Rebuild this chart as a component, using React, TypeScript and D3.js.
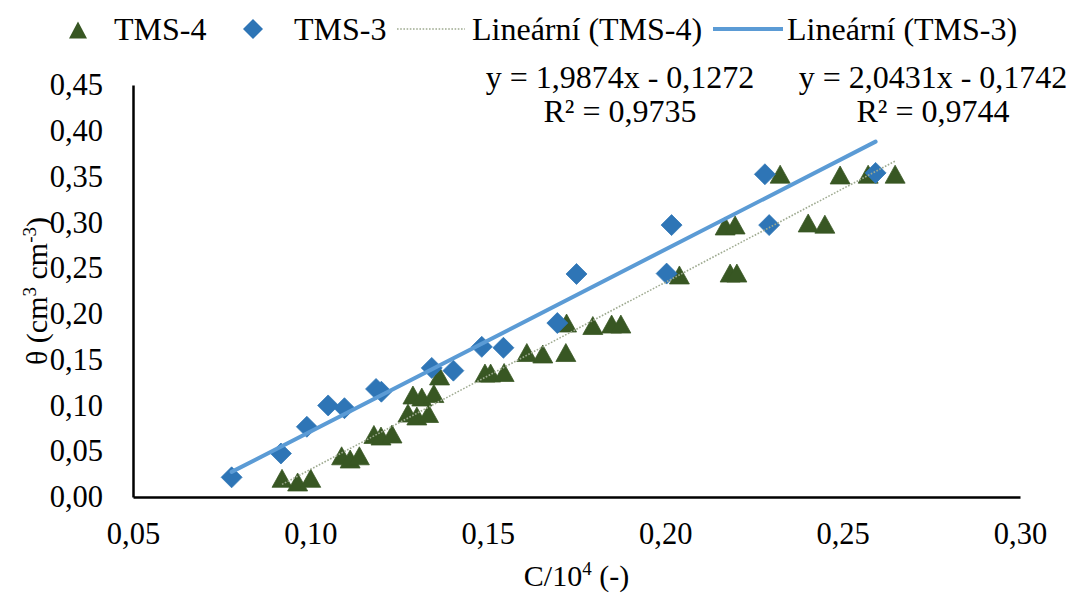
import React, { useRef, useEffect } from "react";
import * as d3 from "d3";

// --- data
const tms4X = [
  0.092, 0.0964, 0.1001, 0.1088, 0.1112, 0.1138, 0.1179, 0.1199, 0.123, 0.1275,
  0.13, 0.1333, 0.1289, 0.1314, 0.1348, 0.1364, 0.1492, 0.1508, 0.1546, 0.161,
  0.1655, 0.172, 0.1722, 0.1796, 0.1849, 0.1875, 0.204, 0.2169, 0.2197, 0.2183,
  0.2202, 0.2324, 0.2403, 0.245, 0.2493, 0.2572, 0.2648,
];
const tms4Y = [
  0.0204, 0.0164, 0.0204, 0.045, 0.0415, 0.045, 0.0683, 0.0666, 0.0688, 0.0917,
  0.0885, 0.0912, 0.1114, 0.1092, 0.113, 0.1322, 0.1354, 0.1354, 0.136, 0.1578,
  0.1562, 0.1578, 0.19, 0.1873, 0.1889, 0.1889, 0.2425, 0.296, 0.2971, 0.2446,
  0.2446, 0.3526, 0.2993, 0.298, 0.3517, 0.3526, 0.3526,
];
const tms3X = [
  0.0778, 0.0917, 0.099, 0.105, 0.1096, 0.1185, 0.12, 0.1342, 0.1403, 0.1483,
  0.1544, 0.1696, 0.175, 0.2004, 0.2018, 0.2293, 0.2281, 0.2593,
];
const tms3Y = [
  0.0215, 0.0475, 0.0767, 0.1, 0.097, 0.118, 0.115, 0.141, 0.138, 0.164,
  0.163, 0.19, 0.2436, 0.244, 0.297, 0.297, 0.3525, 0.354,
];

// trendline equations as printed on the chart
const trend4 = { slope: 2.0431, intercept: -0.1742 };
const trend3 = { slope: 1.9874, intercept: -0.1272 };
const eqLabels = ["y = 1,9874x - 0,1272", "y = 2,0431x - 0,1742"];
const r2Labels = ["R² = 0,9735", "R² = 0,9744"];

const xTicks = [0.05, 0.1, 0.15, 0.2, 0.25, 0.3];
const yTicks = [0, 0.05, 0.1, 0.15, 0.2, 0.25, 0.3, 0.35, 0.4, 0.45];
const legendNames = ["TMS-4", "TMS-3", "Lineární (TMS-4)", "Lineární (TMS-3)"];

const WIDTH = 1068;
const HEIGHT = 594;
const FONT = "Liberation Serif, Tinos, Times New Roman, serif";
const GREEN = "#385723";
const BLUE = "#2e75b6";
const TREND_BLUE = "#5b9bd5";
const TREND_DOT = "#9eaa90";

const fmt = (v: number) => d3.format(".2f")(v).replace(".", ",");

// triangle marker, centred on its bounding box
const triPath = (w: number, h: number) =>
  `M0,${-h / 2}L${w / 2},${h / 2}L${-w / 2},${h / 2}Z`;
const diamondPath = (r: number) => `M0,${-r}L${r},0L0,${r}L${-r},0Z`;

const App: React.FC = () => {
  const svgRef = useRef<SVGSVGElement>(null);

  useEffect(() => {
    if (!svgRef.current) return;
    const svg = d3.select(svgRef.current);
    svg.selectAll("*").remove();

    const x = d3.scaleLinear().domain([0.05, 0.3]).range([133, 1020]);
    const y = d3.scaleLinear().domain([0, 0.45]).range([497, 85]);

    svg.append("rect").attr("width", WIDTH).attr("height", HEIGHT).attr("fill", "white");

    // axes
    const xAxis = svg
      .append("g")
      .attr("transform", `translate(0,${y(0)})`)
      .call(
        d3.axisBottom(x).tickValues(xTicks).tickFormat((d) => fmt(+d)).tickSize(0).tickSizeOuter(0).tickPadding(25)
      );
    const yAxis = svg
      .append("g")
      .attr("transform", `translate(${x(0.05)},0)`)
      .call(
        d3.axisLeft(y).tickValues(yTicks).tickFormat((d) => fmt(+d)).tickSize(0).tickSizeOuter(0).tickPadding(30)
      );
    [xAxis, yAxis].forEach((ax) => {
      ax.attr("font-family", null).attr("font-size", 30.5);
      ax.select(".domain").attr("stroke", "#000").attr("stroke-width", 2.5);
      ax.selectAll("text").attr("fill", "#000");
    });

    // green triangles (TMS-4)
    svg
      .append("g")
      .selectAll("path")
      .data(tms4X.map((v, i) => [v, tms4Y[i]]))
      .join("path")
      .attr("d", triPath(20, 18))
      .attr("transform", (d) => `translate(${x(d[0])},${y(d[1])})`)
      .attr("fill", GREEN)
      .attr("stroke", GREEN)
      .attr("stroke-width", 0.75);

    // blue diamonds (TMS-3)
    svg
      .append("g")
      .selectAll("path")
      .data(tms3X.map((v, i) => [v, tms3Y[i]]))
      .join("path")
      .attr("d", diamondPath(10.5))
      .attr("transform", (d) => `translate(${x(d[0])},${y(d[1])})`)
      .attr("fill", BLUE)
      .attr("stroke", BLUE)
      .attr("stroke-width", 0.75);

    // trendlines over the data range
    const line = d3
      .line<number[]>()
      .x((d) => x(d[0]))
      .y((d) => y(d[1]));
    const ext4 = d3.extent(tms4X) as [number, number];
    const ext3 = d3.extent(tms3X) as [number, number];
    svg
      .append("path")
      .attr("d", line(ext4.map((v) => [v, trend4.slope * v + trend4.intercept])))
      .attr("fill", "none")
      .attr("stroke", TREND_DOT)
      .attr("stroke-width", 1.6)
      .attr("stroke-dasharray", "1.6 1.6");
    svg
      .append("path")
      .attr("d", line(ext3.map((v) => [v, trend3.slope * v + trend3.intercept])))
      .attr("fill", "none")
      .attr("stroke", TREND_BLUE)
      .attr("stroke-width", 4)
      .attr("stroke-linecap", "round");

    const txt = svg.append("g").attr("font-size", 32);

    // equation labels
    const eqX = [620, 933];
    eqLabels.forEach((t, i) => {
      txt.append("text").attr("x", eqX[i]).attr("y", 88).attr("text-anchor", "middle").text(t);
      txt.append("text").attr("x", eqX[i]).attr("y", 122).attr("text-anchor", "middle").text(r2Labels[i]);
    });

    // legend
    const ly = 29;
    txt.append("path").attr("d", triPath(18, 17)).attr("transform", `translate(78,${ly + 1})`).attr("fill", GREEN);
    txt.append("path").attr("d", diamondPath(10)).attr("transform", `translate(253,${ly})`).attr("fill", BLUE);
    txt.append("line").attr("x1", 397).attr("x2", 465).attr("y1", ly).attr("y2", ly)
      .attr("stroke", TREND_DOT).attr("stroke-width", 1.6).attr("stroke-dasharray", "1.6 1.6");
    txt.append("line").attr("x1", 713).attr("x2", 783).attr("y1", ly).attr("y2", ly)
      .attr("stroke", TREND_BLUE).attr("stroke-width", 4);
    const legendX = [114, 294, 472, 787];
    legendNames.forEach((n, i) => {
      txt.append("text").attr("x", legendX[i]).attr("y", 40).text(n);
    });

    // axis titles
    const xt = txt.append("text").attr("x", (x(0.05) + x(0.3)) / 2).attr("y", 586)
      .attr("text-anchor", "middle").attr("font-size", 30);
    xt.append("tspan").text("C/10");
    xt.append("tspan").attr("dy", -11).style("font-size", "19px").text("4");
    xt.append("tspan").attr("dy", 11).text(" (-)");

    const yt = txt.append("text")
      .attr("transform", `translate(47,${(y(0) + y(0.45)) / 2}) rotate(-90)`)
      .attr("text-anchor", "middle").attr("font-size", 30);
    yt.append("tspan").text("θ (cm");
    yt.append("tspan").attr("dy", -11).style("font-size", "19px").text("3");
    yt.append("tspan").attr("dy", 11).text(" cm");
    yt.append("tspan").attr("dy", -11).style("font-size", "19px").text("-3");
    yt.append("tspan").attr("dy", 11).text(")");
  }, []);

  return (
    <svg
      ref={svgRef}
      width={WIDTH}
      height={HEIGHT}
      fontFamily={FONT}
      fontSize={30}
      style={{ position: "absolute", left: 0, top: 0, display: "block", fontFamily: FONT, fontSize: 30 }}
    />
  );
};

export default App;
